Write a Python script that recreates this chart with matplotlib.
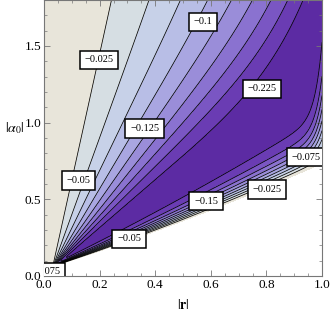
import numpy as np
import matplotlib
matplotlib.use('Agg')
import matplotlib.pyplot as plt
from matplotlib.colors import ListedColormap, BoundaryNorm

plt.rcParams['font.family'] = ['Liberation Serif', 'DejaVu Serif']
plt.rcParams['mathtext.fontset'] = 'stix'

# contour levels and the colour of each band (lowest band first)
levels = [-0.275, -0.25, -0.225, -0.2, -0.175, -0.15, -0.125, -0.1, -0.075, -0.05, -0.025, 0.0]
band_colors = ['#54249a', '#5c2ba3', '#6a3cb3', '#7a56c3', '#8a72d0', '#9a8dd9',
               '#a9a6e1', '#b8bee6', '#c7d1e8', '#d6dee3', '#e8e5da']

# shape of the surface
fan_origin = [0.03, 0.05]   # point where the contour fan meets
fan_scale = 0.63            # slope ratio where the fan reaches the minimum
fan_power = 1.4
edge_coef = [0.045, 0.57, 0.12]     # lower edge a0 = c0 + c1 r + c2 r^2
band_width = [0.19, 0.30, 40]       # width of the steep band along the edge

# contour labels (text, |r|, |a0|)
label_text = ['\u22120.025', '\u22120.1', '\u22120.125', '\u22120.225', '\u22120.05',
              '\u22120.05', '\u22120.15', '\u22120.025', '\u22120.075', '\u22120.075']
label_r = [0.197, 0.572, 0.362, 0.784, 0.125, 0.306, 0.583, 0.802, 0.942, 0.008]
label_a = [1.409, 1.657, 0.962, 1.220, 0.622, 0.243, 0.489, 0.565, 0.775, 0.028]

xticks = [0.0, 0.2, 0.4, 0.6, 0.8, 1.0]
yticks = [0.0, 0.5, 1.0, 1.5]

r = np.linspace(0, 1, 700)
a = np.linspace(0, 1.8, 700)
R, A = np.meshgrid(r, a)

p = np.clip(R - fan_origin[0], 0, None) / np.maximum(A - fan_origin[1], 1e-6)
g = (p / fan_scale) ** fan_power
H = g / (1 + g ** 6) ** (1 / 6)
M = 1 + 0.3 * R ** 4 * np.clip((A - 0.8) / 1.0, 0, 1)
S = np.minimum(H * M, 0.975)
B = edge_coef[0] + edge_coef[1] * R + edge_coef[2] * R ** 2
w = band_width[0] * R + band_width[1] * R ** band_width[2] + 1e-3
D = np.tanh((A - B) / w)
f = -0.25 * S * D

fig = plt.figure(figsize=(3.32, 3.14), dpi=100)
ax = fig.add_axes([44 / 332, 38 / 314, 278 / 332, 276 / 314])

cmap = ListedColormap(band_colors)
norm = BoundaryNorm(levels, cmap.N)
ax.contourf(R, A, f, levels=levels, cmap=cmap, norm=norm)
ax.contour(R, A, f, levels=levels[1:-1], colors='k', linewidths=0.55,
           linestyles='solid')

for t, x, y in zip(label_text, label_r, label_a):
    ax.text(x, y, t, fontsize=7.5, ha='center', va='center', clip_on=True,
            bbox=dict(boxstyle='square,pad=0.45', fc='white', ec='black', lw=1.1))

ax.set_xlim(0, 1)
ax.set_ylim(0, 1.8)
ax.set_xticks(xticks)
ax.set_xticklabels(['%.1f' % v for v in xticks])
ax.set_yticks(yticks)
ax.set_yticklabels(['%.1f' % v for v in yticks])
ax.set_xticks(np.arange(0, 1.001, 0.05), minor=True)
ax.set_yticks(np.arange(0, 1.801, 0.1), minor=True)
ax.tick_params(which='both', direction='in', top=True, right=True, color='#777777',
               labelsize=9.5, pad=2)
ax.tick_params(which='major', length=4, width=0.6)
ax.tick_params(which='minor', length=2, width=0.5)
for s in ax.spines.values():
    s.set_color('#777777')
    s.set_linewidth(0.8)

fig.text(183 / 332, 1 - 305 / 314, r'$|\mathbf{r}|$', fontsize=10, ha='center', va='center')
fig.text(15 / 332, 1 - 128 / 314, r'$|\alpha_0|$', fontsize=10, ha='center', va='center')

fig.savefig('out.png', dpi=100)
